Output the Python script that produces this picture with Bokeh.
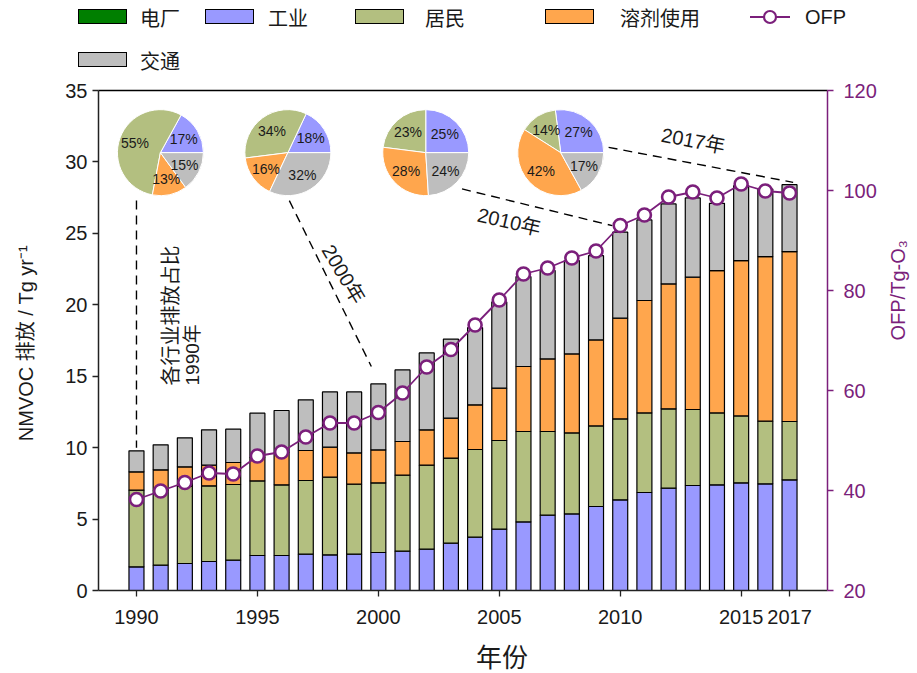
import math
from bokeh.plotting import figure
from bokeh.layouts import column
from bokeh.models import (ColumnDataSource, Range1d, LinearAxis, FixedTicker, Div)
from bokeh.core.properties import value
from bokeh.embed import file_html
from bokeh.resources import INLINE

# ---------------- data ----------------
years = [1990, 1991, 1992, 1993, 1994, 1995, 1996, 1997, 1998, 1999,
         2000, 2001, 2002, 2003, 2004, 2005, 2006, 2007, 2008, 2009,
         2010, 2011, 2012, 2013, 2014, 2015, 2016, 2017]
power = [0, 0, 0, 0, 0, 0, 0, 0, 0, 0,
         0, 0, 0, 0, 0, 0, 0, 0, 0, 0,
         0, 0, 0, 0, 0, 0, 0, 0]
industry = [1.66, 1.77, 1.89, 2.03, 2.12, 2.45, 2.45, 2.54, 2.50, 2.54,
            2.66, 2.75, 2.89, 3.31, 3.73, 4.29, 4.80, 5.27, 5.36, 5.88,
            6.35, 6.86, 7.16, 7.35, 7.40, 7.54, 7.47, 7.75]
residential = [5.36, 5.23, 5.41, 5.30, 5.30, 5.22, 4.95, 5.16, 5.43, 4.90,
               4.87, 5.32, 5.88, 5.96, 6.14, 6.21, 6.33, 5.86, 5.67, 5.64,
               5.66, 5.57, 5.56, 5.32, 5.03, 4.68, 4.38, 4.08]
solvent = [1.29, 1.45, 1.36, 1.44, 1.54, 1.63, 2.26, 2.10, 2.10, 2.19,
           2.31, 2.36, 2.48, 2.79, 3.13, 3.66, 4.55, 5.08, 5.53, 6.02,
           7.05, 7.87, 8.74, 9.26, 9.96, 10.87, 11.52, 11.89]
transport = [1.47, 1.75, 2.03, 2.48, 2.33, 3.11, 2.94, 3.55, 3.87, 4.27,
             4.62, 5.01, 5.38, 5.54, 5.40, 6.04, 6.29, 6.19, 6.54, 5.90,
             6.02, 5.64, 5.60, 5.55, 4.71, 5.25, 4.73, 4.69]
ofp = [38.2, 39.9, 41.6, 43.5, 43.3, 46.9, 47.7, 50.7, 53.5, 53.5,
       55.6, 59.5, 64.7, 68.2, 73.1, 78.1, 83.3, 84.5, 86.5, 87.9,
       93.0, 95.1, 98.7, 99.7, 98.5, 101.3, 99.9, 99.5]

sector_keys = ["power", "industry", "residential", "solvent", "transport"]
sector_names = ["电厂", "工业", "居民", "溶剂使用", "交通"]
sector_colors = ["#007F00", "#9999FF", "#B3BF80", "#FFA64D", "#BEBEBE"]

pie_years = [1990, 2000, 2010, 2017]
pie_industry = [17, 18, 25, 27]
pie_residential = [55, 34, 23, 14]
pie_solvent = [13, 16, 28, 42]
pie_transport = [15, 32, 24, 17]

left_ticks = [0, 5, 10, 15, 20, 25, 30, 35]
right_ticks = [20, 40, 60, 80, 100, 120]
x_ticks = [1990, 1995, 2000, 2005, 2010, 2015, 2017]

# ---------------- style ----------------
PURPLE = "#7B1F7B"
INK = "#1a1a1a"
LATIN = "Liberation Sans"
CJK = "Noto Sans CJK SC"
MIXED = "Liberation Sans, Noto Sans CJK SC"
LEG_H = 76

p = figure(frame_width=729, frame_height=500,
           x_range=Range1d(1988.43, 2018.57), y_range=Range1d(0, 35),
           output_backend="svg", toolbar_location=None,
           min_border_left=98, min_border_right=90,
           min_border_top=90 - LEG_H, min_border_bottom=83,
           background_fill_color="white", border_fill_color="white")
p.extra_y_ranges = {"ofp": Range1d(20, 120)}
p.outline_line_color = None
p.xgrid.visible = False
p.ygrid.visible = False

# ---------------- bars ----------------
src = ColumnDataSource(dict(year=years, power=power, industry=industry,
                            residential=residential, solvent=solvent,
                            transport=transport, ofp=ofp))
bars = p.vbar_stack(sector_keys, x="year", width=0.62, source=src,
                    fill_color=sector_colors, line_color="black", line_width=1.2)

# ---------------- OFP line ----------------
p.line("year", "ofp", source=src, y_range_name="ofp",
       line_color=PURPLE, line_width=1.8)
p.scatter("year", "ofp", source=src, y_range_name="ofp", size=13,
          marker="circle", fill_color="white", line_color=PURPLE, line_width=2.6)

# ---------------- pies ----------------
pie_cx = [1990.99, 1996.26, 2001.96, 2007.54]
pie_cy = 30.65
pie_r = 43
lab_r = 27
w = dict(x=[], y=[], start=[], end=[], color=[])
t = dict(x=[], y=[], xo=[], yo=[], text=[])
for i in range(len(pie_years)):
    shares = [pie_industry[i], pie_residential[i], pie_solvent[i], pie_transport[i]]
    a0 = 0.0
    for s, c in zip(shares, sector_colors[1:]):
        a1 = a0 + s / 100.0 * 2 * math.pi
        w["x"].append(pie_cx[i]); w["y"].append(pie_cy)
        w["start"].append(a0); w["end"].append(a1); w["color"].append(c)
        mid = (a0 + a1) / 2
        t["x"].append(pie_cx[i]); t["y"].append(pie_cy)
        t["xo"].append(lab_r * math.cos(mid)); t["yo"].append(-lab_r * math.sin(mid))
        t["text"].append(f"{s}%")
        a0 = a1
p.wedge(x="x", y="y", radius=pie_r, radius_units="screen", start_angle="start",
        end_angle="end", direction="anticlock", fill_color="color",
        line_color="white", line_width=1, source=ColumnDataSource(w))
p.text(x="x", y="y", x_offset="xo", y_offset="yo", text="text",
       source=ColumnDataSource(t), text_font=value(LATIN), text_font_size="14px",
       text_color=INK, text_align="center", text_baseline="middle")

# ---------------- leader lines & annotations ----------------
leaders = [((1990.0, 27.3), (1990.0, 10.0)),
           ((1996.32, 27.29), (1999.71, 15.68)),
           ((2003.46, 28.11), (2009.67, 25.54)),
           ((2009.52, 31.02), (2017.15, 28.57))]
for (x0, y0), (x1, y1) in leaders:
    p.line([x0, x1], [y0, y1], line_color="black", line_width=1.4, line_dash="9 6")

p.text(x=[1991.35], y=[14.35], text=["各行业排放占比"], angle=math.pi / 2,
       text_font=value(CJK), text_font_size="20px", text_color=INK,
       text_align="left", text_baseline="middle")
p.text(x=[1992.3], y=[14.35], text=["1990年"], angle=math.pi / 2,
       text_font=value(MIXED), text_font_size="19px", text_color=INK,
       text_align="left", text_baseline="middle")
p.text(x=[1998.56, 2005.41, 2013.02], y=[22.15, 25.82, 31.49],
       text=["2000年", "2010年", "2017年"], angle=[-1.033, -0.227, -0.187],
       text_font=value(MIXED), text_font_size="20px", text_color=INK,
       text_align="center", text_baseline="middle")

# ---------------- axes ----------------
xa = p.xaxis[0]
xa.ticker = FixedTicker(ticks=x_ticks)
ya = p.yaxis[0]
ya.ticker = FixedTicker(ticks=left_ticks)
for ax in (xa, ya):
    ax.axis_line_color = "#222222"
    ax.axis_line_width = 1.5
    ax.major_tick_line_color = "#222222"
    ax.major_tick_line_width = 1.3
    ax.major_tick_in = 0
    ax.major_tick_out = 6
    ax.minor_tick_line_color = None
    ax.major_label_text_font = LATIN
    ax.major_label_text_font_size = "20px"
    ax.major_label_text_color = INK
    ax.axis_label_text_font_style = "normal"
    ax.axis_label_text_color = INK
xa.major_label_standoff = 13
xa.axis_label = "\u3000\u3000\u3000年份"
xa.axis_label_text_font = CJK
xa.axis_label_text_font_size = "26px"
xa.axis_label_standoff = 10
ya.major_label_standoff = 5
ya.axis_label = "NMVOC 排放  / Tg yr⁻¹"
ya.axis_label_text_font = MIXED
ya.axis_label_text_font_size = "20px"
ya.axis_label_standoff = 25

ra = LinearAxis(y_range_name="ofp", ticker=FixedTicker(ticks=right_ticks))
ra.axis_line_color = PURPLE
ra.axis_line_width = 1.5
ra.major_tick_line_color = PURPLE
ra.major_tick_line_width = 1.3
ra.major_tick_in = 0
ra.major_tick_out = 6
ra.minor_tick_line_color = None
ra.major_label_text_font = LATIN
ra.major_label_text_font_size = "20px"
ra.major_label_text_color = PURPLE
ra.major_label_standoff = 10
ra.axis_label = "OFP/Tg-O₃"
ra.axis_label_text_font = LATIN
ra.axis_label_text_font_size = "20px"
ra.axis_label_text_font_style = "normal"
ra.axis_label_text_color = PURPLE
ra.axis_label_standoff = 18
ra.axis_label_orientation = math.pi / 2
p.add_layout(ra, "right")

top = LinearAxis(ticker=FixedTicker(ticks=[]))
top.axis_line_color = "black"
top.axis_line_width = 1.5
top.major_tick_line_color = None
top.minor_tick_line_color = None
top.major_label_text_font_size = "0px"
top.major_label_standoff = 0
p.add_layout(top, "above")

# ---------------- legend strip (HTML) ----------------
def box(x, y, color):
    return (f'<div style="position:absolute;left:{x}px;top:{y}px;width:49px;'
            f'height:15px;background:{color};border:1.2px solid #000;"></div>')


def lab(x, y, text, font):
    return (f'<div style="position:absolute;left:{x}px;top:{y}px;'
            f'font-family:\'{font}\';font-size:20px;line-height:20px;'
            f'color:{INK};white-space:nowrap;">{text}</div>')


ofp_glyph = (f'<svg style="position:absolute;left:748px;top:7px;" width="44" height="20">'
             f'<line x1="2" y1="10" x2="42" y2="10" stroke="{PURPLE}" stroke-width="1.8"/>'
             f'<circle cx="22" cy="10" r="6" fill="white" stroke="{PURPLE}" stroke-width="2.2"/>'
             f'</svg>')

box_x = [78, 205, 355, 545, 78]
box_y = [9, 9, 9, 9, 52]
lab_x = [140, 268, 425, 620, 140]
parts = []
for i in range(5):
    parts.append(box(box_x[i], box_y[i], sector_colors[i]))
    parts.append(lab(lab_x[i], box_y[i] - 1, sector_names[i], CJK))
parts.append(ofp_glyph)
parts.append(lab(805, 7, "OFP", LATIN))
legend_html = (f'<div style="position:relative;width:917px;height:{LEG_H}px;">'
               + "".join(parts) + "</div>")
legend_div = Div(text=legend_html, width=917, height=LEG_H, margin=(0, 0, 0, 0))

layout = column(legend_div, p, spacing=0)
open("out.html", "w").write(file_html(layout, INLINE))
